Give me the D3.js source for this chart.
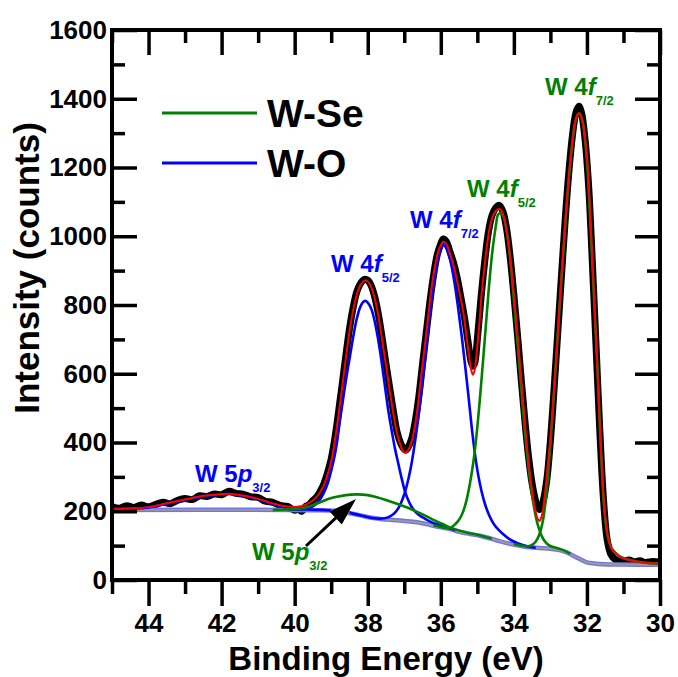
<!DOCTYPE html>
<html><head><meta charset="utf-8">
<script src="https://cdn.jsdelivr.net/npm/d3@7"></script>
<style>
html,body{margin:0;padding:0;background:#fff;}
svg{display:block;font-family:"Liberation Sans",Arial,Helvetica,sans-serif;}
</style></head><body>
<svg id="chart" width="678" height="677"></svg>
<script>
// ---------- DATA (binding energy eV, intensity counts) ----------
const measured = [[45.0,214],[44.8,209],[44.6,216],[44.4,211],[44.2,218],[44.0,213],[43.8,220],[43.6,226],[43.4,222],[43.2,232],[43.0,237],[42.8,234],[42.6,245],[42.4,243],[42.2,250],[42.0,248],[41.8,258],[41.6,252],[41.4,249],[41.2,242],[41.0,240],[40.8,229],[40.6,226],[40.4,217],[40.2,214],[40.0,203],[39.9,206],[39.8,200],[39.7,214],[39.6,220],[39.5,232],[39.4,241],[39.3,258],[39.2,280],[39.1,312],[39.0,352],[38.9,412],[38.8,488],[38.7,568],[38.6,652],[38.5,730],[38.4,792],[38.3,838],[38.2,862],[38.1,874],[38.0,872],[37.9,855],[37.8,820],[37.7,768],[37.6,700],[37.5,628],[37.4,560],[37.3,492],[37.2,432],[37.1,398],[37.0,380],[36.95,378],[36.9,385],[36.8,410],[36.7,462],[36.6,535],[36.5,628],[36.4,718],[36.3,808],[36.2,885],[36.1,945],[36.0,978],[35.93,992],[35.85,985],[35.75,955],[35.65,922],[35.55,878],[35.45,822],[35.35,762],[35.25,690],[35.17,635],[35.12,622],[35.07,632],[35.0,700],[34.9,820],[34.8,925],[34.7,1010],[34.6,1060],[34.5,1082],[34.4,1090],[34.3,1072],[34.2,1022],[34.1,938],[34.0,830],[33.9,712],[33.8,585],[33.7,465],[33.6,360],[33.5,280],[33.4,228],[33.35,212],[33.3,205],[33.25,212],[33.2,228],[33.1,290],[33.0,405],[32.9,555],[32.8,718],[32.7,880],[32.6,1040],[32.5,1180],[32.4,1290],[32.3,1360],[32.22,1378],[32.15,1360],[32.05,1280],[31.95,1140],[31.85,920],[31.75,680],[31.65,440],[31.55,240],[31.45,120],[31.35,76],[31.25,62],[31.15,57],[31.0,55],[30.85,58],[30.7,53],[30.55,56],[30.4,51],[30.2,54],[30.0,52]];

const fitSum = [[45.0,206],[44.5,208],[44.0,212],[43.5,223],[43.0,234],[42.5,245],[42.0,250],[41.8,251],[41.5,247],[41.0,236],[40.6,223],[40.3,215],[40.1,213],[39.9,213],[39.7,219],[39.55,228],[39.4,242],[39.3,256],[39.2,276],[39.1,306],[39.0,345],[38.9,405],[38.8,480],[38.7,560],[38.6,645],[38.5,722],[38.4,785],[38.3,830],[38.2,858],[38.1,870],[38.03,871],[37.95,862],[37.85,835],[37.75,792],[37.66,737],[37.57,672],[37.48,611],[37.4,552],[37.3,485],[37.2,428],[37.12,398],[37.05,378],[36.98,370],[36.9,377],[36.8,402],[36.7,452],[36.61,524],[36.52,610],[36.43,688],[36.34,772],[36.25,853],[36.15,918],[36.05,962],[35.93,984],[35.84,976],[35.75,950],[35.65,915],[35.56,873],[35.47,826],[35.38,776],[35.3,712],[35.23,655],[35.17,612],[35.12,597],[35.07,612],[35.0,680],[34.94,750],[34.89,824],[34.8,915],[34.74,970],[34.65,1030],[34.55,1065],[34.45,1078],[34.38,1079],[34.3,1066],[34.2,1018],[34.1,935],[34.0,830],[33.92,740],[33.85,650],[33.79,575],[33.7,460],[33.6,345],[33.5,260],[33.42,205],[33.35,178],[33.3,172],[33.24,185],[33.15,250],[33.05,360],[33.0,410],[32.87,601],[32.8,710],[32.74,815],[32.6,1038],[32.5,1170],[32.46,1212],[32.4,1275],[32.33,1329],[32.27,1352],[32.21,1358],[32.15,1345],[32.08,1309],[32.0,1230],[31.96,1170],[31.87,972],[31.78,768],[31.69,548],[31.6,345],[31.5,182],[31.41,118],[31.32,90],[31.2,76],[31.09,67],[30.95,61],[30.8,57],[30.6,53],[30.3,49],[30.0,47]];

const background = [[45.0,204],[40.2,204],[39.5,203],[39.0,202],[38.7,199],[38.48,194],[38.2,188],[37.94,182],[37.6,177],[37.39,175],[36.84,170],[36.5,165],[36.29,160],[36.0,153],[35.75,148],[35.5,140],[35.2,134],[34.9,128],[34.65,121],[34.4,113],[34.1,105],[33.8,99],[33.56,95],[33.3,93],[33.0,91],[32.8,88],[32.65,84],[32.5,78],[32.4,72],[32.27,65],[32.1,56],[32.0,51],[31.8,48],[31.56,46],[31.0,45],[30.0,44]];

// W-Se components
const wSe4f72 = [[34.0,105],[33.8,100],[33.6,98],[33.5,102],[33.4,112],[33.3,133],[33.2,175],[33.1,260],[33.0,395],[32.9,545],[32.8,710],[32.7,870],[32.6,1018],[32.5,1160],[32.4,1270],[32.3,1340],[32.21,1358],[32.12,1335],[32.05,1280],[31.98,1190],[31.92,1067],[31.87,960],[31.83,873],[31.78,765],[31.73,660],[31.68,548],[31.64,436],[31.6,345],[31.55,242],[31.5,180],[31.46,145],[31.4,115],[31.32,92],[31.2,77],[31.09,68],[30.95,62],[30.82,58],[30.6,53],[30.3,49],[30.0,47]];
const wSe4f52 = [[36.2,159],[36.0,154],[35.8,151],[35.7,154],[35.6,163],[35.5,175],[35.4,196],[35.3,230],[35.2,282],[35.1,350],[35.0,445],[34.9,565],[34.8,695],[34.7,830],[34.6,945],[34.5,1025],[34.43,1064],[34.38,1067],[34.3,1060],[34.2,1018],[34.1,935],[34.0,815],[33.9,690],[33.8,560],[33.7,435],[33.6,330],[33.5,245],[33.4,185],[33.3,145],[33.2,120],[33.1,106],[33.0,99],[32.85,94],[32.7,89],[32.55,82],[32.45,76]];
const wSe5p32 = [[40.6,204],[40.2,205],[39.9,207],[39.7,211],[39.5,218],[39.3,226],[39.1,235],[38.85,242],[38.6,247],[38.3,249],[38.0,247],[37.75,241],[37.5,233],[37.2,222],[36.9,210],[36.66,199],[36.4,186],[36.2,175],[35.95,163],[35.75,153],[35.5,144],[35.2,136],[34.9,129],[34.6,120]];

// W-O components
const wO4f72 = [[38.5,196],[38.2,188],[37.95,182],[37.75,179],[37.6,179],[37.43,183],[37.33,189],[37.23,199],[37.13,215],[37.03,240],[36.93,275],[36.83,322],[36.73,385],[36.63,460],[36.53,550],[36.43,645],[36.33,745],[36.23,835],[36.13,905],[36.03,955],[35.93,975],[35.83,962],[35.73,925],[35.63,868],[35.53,795],[35.43,712],[35.33,620],[35.23,522],[35.13,422],[35.03,340],[34.93,280],[34.83,235],[34.73,202],[34.63,178],[34.53,160],[34.43,147],[34.3,134],[34.15,121],[34.0,112],[33.8,103],[33.6,97],[33.4,94]];
const wO4f52 = [[40.2,204],[39.9,205],[39.7,207],[39.5,214],[39.35,228],[39.22,250],[39.1,280],[38.94,345],[38.85,395],[38.76,465],[38.67,530],[38.58,592],[38.48,655],[38.39,712],[38.3,760],[38.21,793],[38.14,807],[38.07,812],[38.0,807],[37.9,788],[37.8,748],[37.71,697],[37.62,635],[37.53,565],[37.44,495],[37.34,432],[37.25,380],[37.16,337],[37.07,295],[36.98,258],[36.89,232],[36.8,213],[36.7,199],[36.57,187],[36.43,178],[36.29,170],[36.1,162],[35.9,155],[35.7,148],[35.6,144]];
const wO5p32 = [[45.0,205],[44.5,207],[44.0,211],[43.5,222],[43.0,233],[42.5,244],[42.0,249],[41.8,250],[41.5,246],[41.0,235],[40.6,221],[40.3,212],[40.0,207],[39.7,205],[39.3,204],[39.0,202]];

const xMajorTicks = [44,42,40,38,36,34,32,30];
const xMinorTicks = [45,43,41,39,37,35,33,31];
const yMajorTicks = [0,200,400,600,800,1000,1200,1400,1600];
const yMinorTicks = [100,300,500,700,900,1100,1300,1500];

const legendItems = [{label:"W-Se", color:"#008000"},{label:"W-O", color:"#0000ff"}];

// ---------- DRAWING ----------
const GREEN = "#008000", BLUE = "#0000ff";
const svg = d3.select("#chart");
const x = d3.scaleLinear().domain([45,30]).range([112,660]);
const y = d3.scaleLinear().domain([0,1600]).range([580,30]);

svg.append("defs").append("clipPath").attr("id","plotclip")
  .append("rect").attr("x",112).attr("y",30).attr("width",548).attr("height",550);

const line = d3.line().x(d=>x(d[0])).y(d=>y(d[1])).curve(d3.curveCatmullRom.alpha(0.5));
const plot = svg.append("g").attr("clip-path","url(#plotclip)");

plot.append("path").datum(measured).attr("d",line).attr("fill","none")
  .attr("stroke","#000").attr("stroke-width",7).attr("stroke-linejoin","round").attr("stroke-linecap","round");

plot.append("path").datum(background).attr("d",line).attr("fill","none")
  .attr("stroke","#7373e6").attr("stroke-width",4.5);
plot.append("path").datum(background).attr("d",line).attr("fill","none")
  .attr("stroke","#9c9c9c").attr("stroke-width",1.8);

[[wO5p32,BLUE],[wO4f52,BLUE],[wO4f72,BLUE],[wSe5p32,GREEN],[wSe4f52,GREEN],[wSe4f72,GREEN]].forEach(([d,c])=>{
  plot.append("path").datum(d).attr("d",line).attr("fill","none").attr("stroke",c).attr("stroke-width",2.6);
});

plot.append("path").datum(fitSum).attr("d",line).attr("fill","none")
  .attr("stroke","#ff0000").attr("stroke-width",2);

// axes
function styleAxis(sel){
  sel.select(".domain").remove();
  sel.selectAll(".tick line").attr("stroke","#000").attr("stroke-width",3.5);
  sel.selectAll(".tick text").attr("font-size",26).attr("font-weight","bold").attr("fill","#000")
    .attr("font-family","'Liberation Sans',Arial,sans-serif");
}
svg.append("g").attr("transform","translate(0,580)")
  .call(d3.axisBottom(x).tickValues(xMajorTicks).tickSize(26).tickPadding(7.5).tickFormat(d3.format("d"))).call(styleAxis);
svg.append("g").attr("transform","translate(0,580)")
  .call(d3.axisBottom(x).tickValues(xMinorTicks).tickSize(14).tickFormat("")).call(styleAxis);
svg.append("g").attr("transform","translate(0,30)")
  .call(d3.axisTop(x).tickValues(xMajorTicks).tickSize(-25).tickFormat("")).call(styleAxis);
svg.append("g").attr("transform","translate(0,30)")
  .call(d3.axisTop(x).tickValues(xMinorTicks).tickSize(-13).tickFormat("")).call(styleAxis);
svg.append("g").attr("transform","translate(112,0)")
  .call(d3.axisLeft(y).tickValues(yMajorTicks).tickSize(-25).tickPadding(5).tickFormat(d3.format("d"))).call(styleAxis);
svg.append("g").attr("transform","translate(112,0)")
  .call(d3.axisLeft(y).tickValues(yMinorTicks).tickSize(-13).tickFormat("")).call(styleAxis);
svg.append("g").attr("transform","translate(660,0)")
  .call(d3.axisRight(y).tickValues(yMajorTicks).tickSize(-25).tickFormat("")).call(styleAxis);
svg.append("g").attr("transform","translate(660,0)")
  .call(d3.axisRight(y).tickValues(yMinorTicks).tickSize(-13).tickFormat("")).call(styleAxis);

svg.append("rect").attr("x",112).attr("y",30).attr("width",548).attr("height",550)
  .attr("fill","none").attr("stroke","#000").attr("stroke-width",4);

// axis titles
svg.append("text").attr("transform","translate(39,268) rotate(-90)").attr("text-anchor","middle")
  .attr("font-size",35).attr("font-weight","bold").text("Intensity (counts)");
svg.append("text").attr("x",386).attr("y",670).attr("text-anchor","middle")
  .attr("font-size",33).attr("font-weight","bold").text("Binding Energy (eV)");

// legend
legendItems.forEach((it,i)=>{
  const ly = 113 + i*50;
  svg.append("line").attr("x1",162).attr("x2",257).attr("y1",ly).attr("y2",ly)
    .attr("stroke",it.color).attr("stroke-width",3);
  svg.append("text").attr("x",267).attr("y",ly+14).attr("font-size",39).attr("font-weight","bold")
    .attr("fill","#000").text(it.label);
});

// peak labels
const peakLabels = [
  {px:545, py:95,  color:GREEN, main:"W 4", orb:"f", sub:"7/2"},
  {px:467, py:197, color:GREEN, main:"W 4", orb:"f", sub:"5/2"},
  {px:410, py:228, color:BLUE,  main:"W 4", orb:"f", sub:"7/2"},
  {px:331, py:272, color:BLUE,  main:"W 4", orb:"f", sub:"5/2"},
  {px:195, py:482, color:BLUE,  main:"W 5", orb:"p", sub:"3/2"},
  {px:252, py:560, color:GREEN, main:"W 5", orb:"p", sub:"3/2"}
];
peakLabels.forEach(l=>{
  const t = svg.append("text").attr("x",l.px).attr("y",l.py).attr("fill",l.color)
    .attr("font-size",24).attr("font-weight","bold");
  t.append("tspan").text(l.main);
  t.append("tspan").attr("font-style","italic").text(l.orb);
  t.append("tspan").attr("font-size",13).attr("dy",10).text(l.sub);
});

// arrow annotation (data coordinates)
const arrowFrom = [39.69, 99], arrowTo = [38.32, 236];
const ax0 = x(arrowFrom[0]), ay0 = y(arrowFrom[1]), ax1 = x(arrowTo[0]), ay1 = y(arrowTo[1]);
const ang = Math.atan2(ay1-ay0, ax1-ax0), hl = 28, hw = 9;
const bx = ax1 - hl*Math.cos(ang), by = ay1 - hl*Math.sin(ang);
svg.append("line").attr("x1",ax0).attr("y1",ay0).attr("x2",bx+4*Math.cos(ang)).attr("y2",by+4*Math.sin(ang))
  .attr("stroke","#000").attr("stroke-width",3);
svg.append("path").attr("d",`M${ax1},${ay1}L${bx - hw*Math.sin(ang)},${by + hw*Math.cos(ang)}L${bx + hw*Math.sin(ang)},${by - hw*Math.cos(ang)}Z`)
  .attr("fill","#000");
</script>
</body></html>
